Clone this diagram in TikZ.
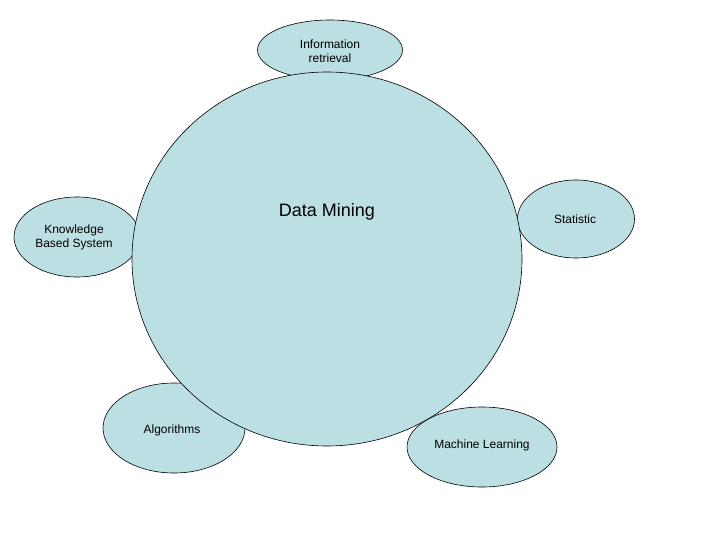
\documentclass[tikz,border=0pt]{standalone}
\usepackage{fontspec}
\setmainfont{Liberation Sans}
\usetikzlibrary{shapes.geometric}
\definecolor{fillc}{HTML}{BCDFE3}
\begin{document}
\begin{tikzpicture}[x=1pt,y=-1pt,
  blob/.style={ellipse,draw=black,fill=fillc,line width=0.6pt,inner sep=0pt},
  lbl/.style={font=\fontsize{12}{14}\selectfont,align=center}]
\useasboundingbox (0,0) rectangle (720,540);
\node[blob,minimum width=145,minimum height=60] (ir) at (330,50) {};
\node[lbl] (irt) at (330,51) {Information\\retrieval};
\node[blob,minimum width=126,minimum height=80] (kb) at (77,237) {};
\node[lbl] (kbt) at (74,237) {Knowledge\\Based System};
\node[blob,minimum width=117,minimum height=78] (st) at (576,219) {};
\node[lbl] (stt) at (575,219) {Statistic};
\node[blob,minimum width=142,minimum height=90] (al) at (174,428) {};
\node[lbl] (alt) at (172,430) {Algorithms};
\node[blob,minimum width=390,minimum height=374] (dm) at (327,259) {};
\node[font=\fontsize{18}{20}\selectfont] (dmt) at (327,212) {Data Mining};
\node[blob,minimum width=150,minimum height=80] (ml) at (482,447) {};
\node[lbl] (mlt) at (482,445) {Machine Learning};
\end{tikzpicture}
\end{document}
